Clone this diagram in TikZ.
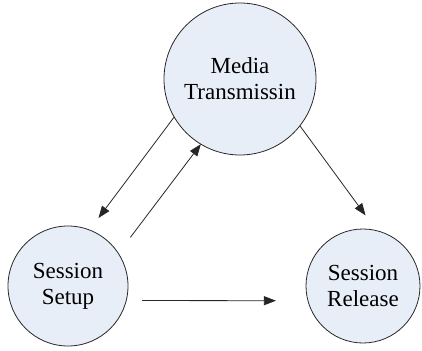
\documentclass[tikz,border=0pt]{standalone}
\usepackage{fontspec}
\setmainfont{Liberation Serif}
\newfontfamily\statefont{Liberation Serif}
\usetikzlibrary{arrows.meta}
\definecolor{statefill}{RGB}{232,238,247}
\definecolor{statedraw}{RGB}{40,40,40}
\tikzset{
  state/.style={circle, draw=statedraw, line width=0.8pt, fill=statefill,
    inner sep=0pt, outer sep=0pt, align=center,
    font=\statefont\fontsize{23}{26}\selectfont},
  flow/.style={draw=black!85, line width=0.8pt,
    -{Triangle[length=12pt,width=9pt]}}
}
\begin{document}
\begin{tikzpicture}[x=1pt,y=-1pt]
  \useasboundingbox (0,0) rectangle (422,350);
  % three session states
  \node[state, minimum size=152pt] (media) at (240,79) {Media\\Transmissin};
  \node[state, minimum size=120pt] (setup) at (68,286) {Session\\Setup};
  \node[state, minimum size=114pt] (release) at (363,286) {Session\\Release};
  % transitions between the states
  \draw[flow, shorten >=15pt] (media.210) -- (setup.69);
  \draw[flow, shorten <=20pt] (setup.33) -- (media.239);
  \draw[flow, shorten >=19pt] (media.-38) -- (release.76);
  \draw[flow, shorten <=16pt, shorten >=32pt] (setup.-14.5) -- (release.195.3);
\end{tikzpicture}
\end{document}
